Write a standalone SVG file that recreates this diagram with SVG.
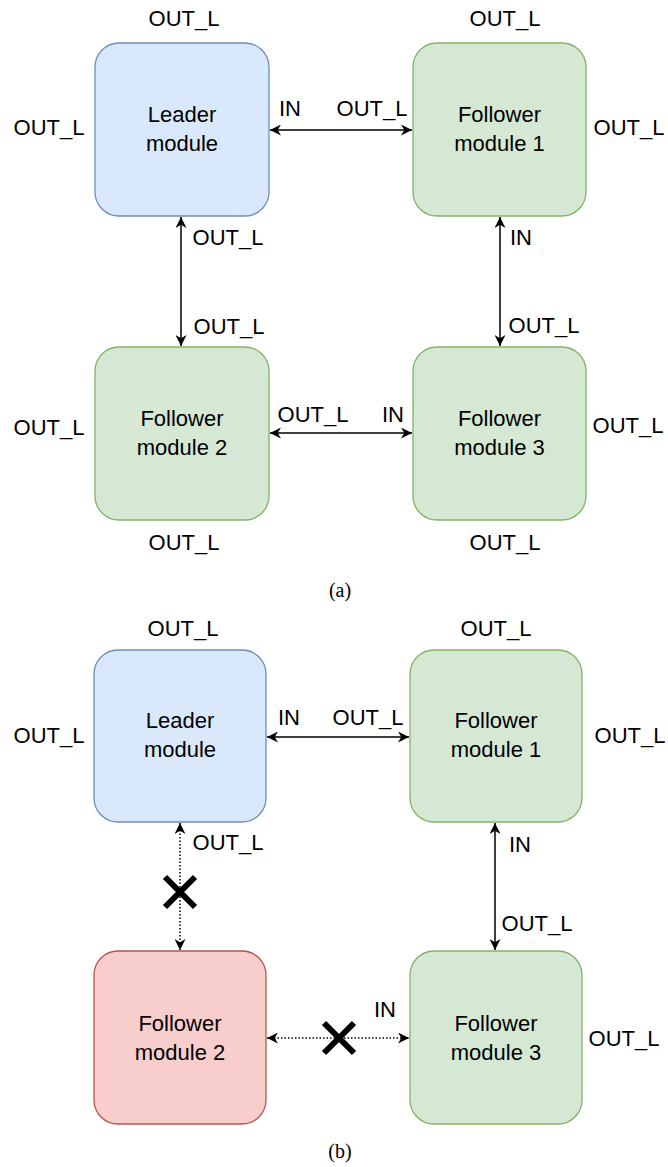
<svg xmlns="http://www.w3.org/2000/svg" width="668" height="1167" viewBox="0 0 668 1167">
<defs>
<style>
.lbl{font-family:"Liberation Sans",Arial,sans-serif;font-size:22px;fill:#000}
.mid{text-anchor:middle}
.cap{font-family:"Liberation Serif","Times New Roman",serif;font-size:20px;fill:#000;text-anchor:middle}
.blue{fill:#dae8fc;stroke:#6c8ebf;stroke-width:1.3}
.green{fill:#d5e8d4;stroke:#82b366;stroke-width:1.3}
.red{fill:#f8cecc;stroke:#b85450;stroke-width:1.3}
.conn{stroke:#000;stroke-width:1.5;fill:none;marker-start:url(#ah);marker-end:url(#ah)}
.dot{stroke-dasharray:1.5 2}
.x{stroke:#000;stroke-width:6;fill:none}
</style>
<marker id="ah" viewBox="0 0 10 10" refX="10" refY="5" markerWidth="11" markerHeight="11" markerUnits="userSpaceOnUse" orient="auto-start-reverse">
<path d="M0,0 L10,5 L0,10 L3,5 z" fill="#000"/>
</marker>
</defs>

<g id="connectors">
<line class="conn" x1="270" y1="130" x2="412" y2="130"/>
<line class="conn" x1="181" y1="217" x2="181" y2="346"/>
<line class="conn" x1="500" y1="217" x2="500" y2="346"/>
<line class="conn" x1="270" y1="433" x2="412" y2="433"/>
<line class="conn" x1="267" y1="737" x2="409" y2="737"/>
<line class="conn dot" x1="180" y1="823" x2="180" y2="950"/>
<line class="conn" x1="495" y1="823" x2="495" y2="950"/>
<line class="conn dot" x1="267" y1="1038" x2="409" y2="1038"/>
<g id="cross1"><path class="x" d="M165,877 L195,907 M195,877 L165,907"/></g>
<g id="cross2"><path class="x" d="M324,1023 L354,1053 M354,1023 L324,1053"/></g>
</g>

<g id="a-leader">
<rect class="blue" x="95" y="43" width="174" height="173" rx="24"/>
<text class="lbl mid" x="182" y="122">Leader</text>
<text class="lbl mid" x="182" y="151">module</text>
</g>
<g id="a-follower1">
<rect class="green" x="413" y="43" width="173" height="173" rx="24"/>
<text class="lbl mid" x="499.5" y="122">Follower</text>
<text class="lbl mid" x="499.5" y="151">module 1</text>
</g>
<g id="a-follower2">
<rect class="green" x="95" y="347" width="174" height="173" rx="24"/>
<text class="lbl mid" x="182" y="426">Follower</text>
<text class="lbl mid" x="182" y="455">module 2</text>
</g>
<g id="a-follower3">
<rect class="green" x="413" y="347" width="173" height="173" rx="24"/>
<text class="lbl mid" x="499.5" y="426">Follower</text>
<text class="lbl mid" x="499.5" y="455">module 3</text>
</g>

<g id="a-labels">
<text class="lbl mid" x="184" y="26">OUT_L</text>
<text class="lbl mid" x="505" y="26">OUT_L</text>
<text class="lbl mid" x="49" y="135">OUT_L</text>
<text class="lbl mid" x="629" y="135">OUT_L</text>
<text class="lbl mid" x="290" y="116">IN</text>
<text class="lbl mid" x="372" y="116">OUT_L</text>
<text class="lbl mid" x="228" y="245">OUT_L</text>
<text class="lbl mid" x="229" y="334">OUT_L</text>
<text class="lbl mid" x="521" y="245">IN</text>
<text class="lbl mid" x="544" y="333">OUT_L</text>
<text class="lbl mid" x="313" y="422">OUT_L</text>
<text class="lbl mid" x="393" y="422">IN</text>
<text class="lbl mid" x="49" y="435">OUT_L</text>
<text class="lbl mid" x="628" y="433">OUT_L</text>
<text class="lbl mid" x="184" y="550">OUT_L</text>
<text class="lbl mid" x="505" y="550">OUT_L</text>
<text class="cap" x="340" y="597">(a)</text>
</g>

<g id="b-leader">
<rect class="blue" x="94" y="650" width="172" height="172" rx="24"/>
<text class="lbl mid" x="180" y="728">Leader</text>
<text class="lbl mid" x="180" y="757">module</text>
</g>
<g id="b-follower1">
<rect class="green" x="410" y="650" width="172" height="172" rx="24"/>
<text class="lbl mid" x="496" y="728">Follower</text>
<text class="lbl mid" x="496" y="757">module 1</text>
</g>
<g id="b-follower2">
<rect class="red" x="94" y="951" width="172" height="173" rx="24"/>
<text class="lbl mid" x="180" y="1031">Follower</text>
<text class="lbl mid" x="180" y="1060">module 2</text>
</g>
<g id="b-follower3">
<rect class="green" x="410" y="951" width="172" height="173" rx="24"/>
<text class="lbl mid" x="496" y="1031">Follower</text>
<text class="lbl mid" x="496" y="1060">module 3</text>
</g>

<g id="b-labels">
<text class="lbl mid" x="183" y="636">OUT_L</text>
<text class="lbl mid" x="496" y="636">OUT_L</text>
<text class="lbl mid" x="49" y="743">OUT_L</text>
<text class="lbl mid" x="630" y="743">OUT_L</text>
<text class="lbl mid" x="289" y="725">IN</text>
<text class="lbl mid" x="368" y="725">OUT_L</text>
<text class="lbl mid" x="228" y="850">OUT_L</text>
<text class="lbl mid" x="520" y="852">IN</text>
<text class="lbl mid" x="537" y="931">OUT_L</text>
<text class="lbl mid" x="385" y="1017">IN</text>
<text class="lbl mid" x="624" y="1046">OUT_L</text>
<text class="cap" x="340" y="1158">(b)</text>
</g>
</svg>
